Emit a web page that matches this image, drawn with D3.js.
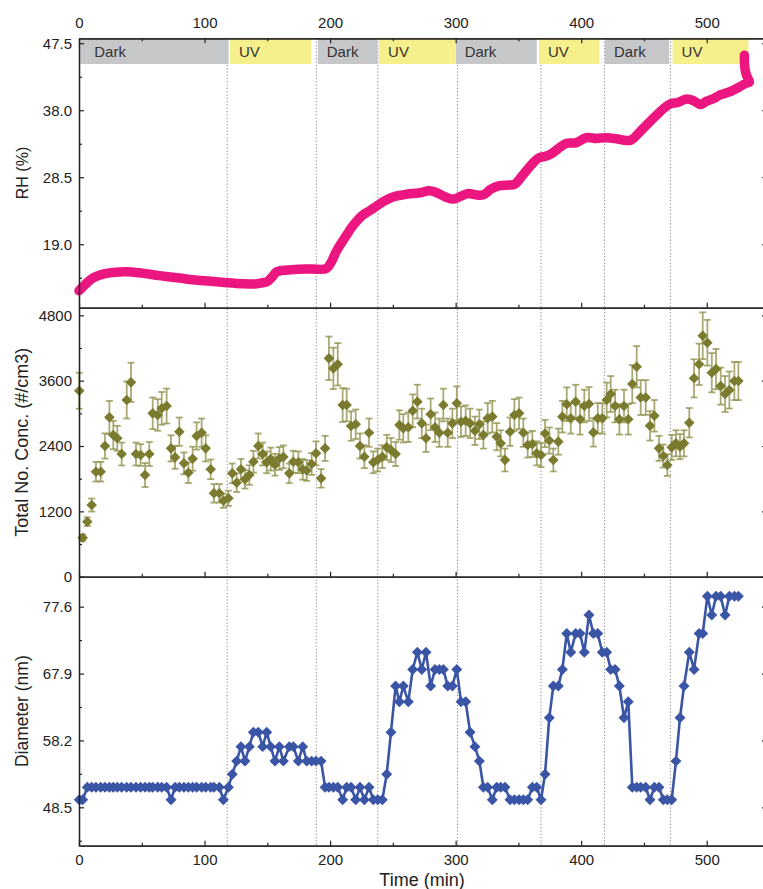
<!DOCTYPE html>
<html><head><meta charset="utf-8">
<script src="https://cdn.jsdelivr.net/npm/d3@7"></script>
<style>body{margin:0;background:#fff;} svg{display:block;font-family:"Liberation Sans",Arial,sans-serif;}</style>
</head><body><svg id="c" width="763" height="889"></svg>
<script>
// ---------- data ----------
const times = [
 0.2,2.9,6.6,10.1,13.5,17.3,20.7,24.2,27.3,30.5,
 34.0,38.0,41.4,45.4,49.1,52.6,56.0,58.7,62.7,65.9,
 69.8,73.3,76.5,79.9,83.6,87.1,90.5,93.7,97.7,100.9,
 104.9,107.5,111.8,115.0,119.0,122.1,125.6,129.0,132.2,135.7,
 138.9,142.8,146.3,149.5,152.7,156.1,159.6,162.8,167.5,170.7,
 174.7,178.2,181.4,185.3,188.8,192.8,196.0,199.1,202.6,206.1,
 210.0,213.2,216.7,220.4,223.8,227.3,231.0,234.4,237.9,241.6,
 245.1,248.5,252.2,255.2,258.3,262.3,265.8,269.5,273.0,276.4,
 280.1,283.6,287.0,290.2,293.7,297.4,300.9,304.3,308.0,311.5,
 315.4,318.9,322.1,325.5,329.2,332.7,335.9,339.3,343.3,346.8,
 350.5,353.9,357.4,361.1,364.6,368.0,371.2,374.6,377.8,381.8,
 385.0,388.5,391.7,395.6,399.1,402.5,406.2,409.7,413.2,416.8,
 420.3,423.5,427.0,430.4,434.1,437.5,440.7,444.2,447.4,451.4,
 454.8,458.3,462.0,465.4,468.6,472.1,475.5,478.7,481.9,486.1,
 489.9,493.9,496.8,500.5,504.0,507.4,511.1,514.6,518.0,
 522.0,525.2];
const conc = [
 3415,716,1010,1316,1928,1928,2400,2927,2602,2541,
 2253,3245,3569,2253,2234,1867,2253,3000,2970,3092,
 3134,2357,2192,2663,2082,1910,2167,2584,2645,2357,
 1972,1531,1531,1396,1440,1898,1726,1972,1788,1867,
 2112,2400,2253,2100,2160,2057,2170,2200,1898,2112,
 2100,1972,1950,2070,2265,1806,2357,4010,3826,3900,
 3153,3153,2767,2800,2400,2204,2645,2100,2143,2204,
 2375,2327,2253,2786,2725,2745,3048,3215,2816,2541,
 2982,2745,2645,3153,2645,2816,3184,2847,2865,2816,
 2680,2800,2602,2908,2939,2572,2449,2143,2663,2970,
 3000,2645,2418,2437,2265,2234,2630,2500,2143,2480,
 2939,3166,2908,3215,2890,3134,3172,2650,2908,2908,
 3245,3355,3134,2890,3134,2890,3538,3856,3290,3290,
 2770,2955,2357,2216,2051,2375,2449,2388,2449,2828,
 3643,3900,4425,4297,3746,3813,3500,3355,3428,
 3593,3593];
const concErr = [
 330,60,80,120,180,180,230,300,260,230,
 210,340,360,210,200,220,220,290,290,300,
 320,240,210,260,200,190,220,250,260,240,
 180,170,170,130,140,180,170,190,170,180,
 200,230,210,200,210,200,210,210,180,200,
 200,190,190,200,220,170,230,400,380,390,
 310,300,270,270,230,210,260,200,210,210,
 230,220,220,270,260,270,300,310,270,250,
 290,270,260,300,260,270,310,280,280,270,
 260,270,250,280,290,250,240,210,260,290,
 290,260,230,240,220,220,250,240,210,240,
 290,310,280,310,280,300,310,260,280,280,
 320,330,300,280,300,280,350,380,320,320,
 270,290,230,210,200,230,240,230,240,270,
 350,380,430,420,360,370,340,330,340,
 350,350];
const diameter = [
 49.6,49.6,51.4,51.4,51.4,51.4,51.4,51.4,51.4,51.4,
 51.4,51.4,51.4,51.4,51.4,51.4,51.4,51.4,51.4,51.4,
 51.4,49.6,51.4,51.4,51.4,51.4,51.4,51.4,51.4,51.4,
 51.4,51.4,51.4,49.6,51.4,53.3,55.2,57.3,55.2,57.3,
 59.4,59.4,57.3,59.4,57.3,55.2,57.3,55.2,57.3,57.3,
 55.2,57.3,55.2,55.2,55.2,55.2,51.4,51.4,51.4,51.4,
 49.6,51.4,51.4,49.6,51.4,49.6,51.4,49.6,49.6,49.6,
 53.3,59.4,66.1,63.8,66.1,63.8,68.5,71.0,68.5,71.0,
 66.1,68.5,68.5,68.5,66.1,66.1,68.5,63.8,63.8,59.4,
 57.3,55.2,51.4,51.4,49.6,51.4,51.4,51.4,49.6,49.6,
 49.6,49.6,49.6,51.4,51.4,49.6,53.3,61.5,66.1,66.1,
 68.5,73.7,71.0,73.7,73.7,71.0,76.4,73.7,73.7,71.0,
 71.0,68.5,68.5,66.1,61.5,63.8,51.4,51.4,51.4,51.4,
 49.6,51.4,51.4,49.6,49.6,49.6,55.2,61.5,66.1,71.0,
 68.5,73.7,73.7,79.1,76.4,79.1,79.1,76.4,79.1,
 79.1,79.1];
const rhTime = [0,5,11,20,27,38,50,64,80,91,105,118,130,139,145,150,154,157.5,170,185,
 197,201,205,212,218.5,225,232,237,243,250,258,265,272,279,285,292,298,304,310,316,
 322,328,335,342,347,353,360,366,372,376,382,388,396,404,412,420,428,436,440,446,
 452,460,466,471,477,484,490,495,500,506,511,518,526,531,534,532,530.5,530];
const rhValue = [12.4,13.3,14.2,14.8,15.0,15.1,14.9,14.55,14.2,13.95,13.75,13.55,13.4,13.35,13.5,13.7,14.4,15.1,15.4,15.5,
 15.55,16.5,18.0,20.0,21.7,23.0,23.8,24.4,25.1,25.7,26.0,26.2,26.3,26.6,26.3,25.7,25.4,25.8,26.2,26.0,
 26.0,26.8,27.3,27.4,27.5,28.7,30.2,31.2,31.5,31.8,32.6,33.3,33.4,34.1,34.0,34.1,33.95,33.7,33.8,34.8,
 35.9,37.3,38.3,38.9,39.1,39.6,39.3,38.8,39.3,39.7,40.2,40.6,41.3,41.8,42.0,42.8,43.8,45.8];
const phaseLabels = ["Dark","UV","Dark","UV","Dark","UV","Dark","UV"];
const phaseStart = [1,120.3,190.2,239,300,366.4,419,472.8];
const phaseEnd   = [119.2,185,237.9,299.5,364.6,414.6,470,533.2];
const dividerTimes = [118,189,238,301.5,368,418.5,471];
const xMajor = [0,100,200,300,400,500];
const xMinor = [50,150,250,350,450];
const rhTicks = [19.0,28.5,38.0,47.5];
const rhMinor = [14.25,23.75,33.25,42.75];
const concTicks = [0,1200,2400,3600,4800];
const concMinor = [600,1800,3000,4200];
const diamTicks = [48.5,58.2,67.9,77.6];
const diamMinor = [43.65,53.35,63.05,72.75];

// ---------- layout ----------
const svg = d3.select("#c");
const L = 79, R = 767;
const P1 = [38.3, 307.7], P2 = [307.7, 576.7], P3 = [576.7, 845.7];
const x = d3.scaleLinear().domain([0, 548]).range([L, R]);
const y1 = d3.scaleLinear().domain([10, 48.2]).range([P1[1], P1[0]]);
const y2 = d3.scaleLinear().domain([0, 4940]).range([P2[1], P2[0]]);
const y3 = d3.scaleLinear().domain([42.93, 81.95]).range([P3[1], P3[0]]);

const ink = "#222";

// divider dotted lines
svg.append("g").selectAll("line").data(dividerTimes).join("line")
  .attr("x1", d => x(d)).attr("x2", d => x(d))
  .attr("y1", P1[0]).attr("y2", P3[1])
  .attr("stroke", "#8a8a8a").attr("stroke-width", 1).attr("stroke-dasharray", "1.3,2");

// phase bands
const bandBottom = 44.55;
const bands = svg.append("g");
phaseLabels.forEach((lab, i) => {
  bands.append("rect")
    .attr("x", x(phaseStart[i])).attr("width", x(phaseEnd[i]) - x(phaseStart[i]))
    .attr("y", y1(48.2)).attr("height", y1(bandBottom) - y1(48.2))
    .attr("fill", lab === "Dark" ? "#c6c7c9" : "#f5f08b");
  bands.append("text")
    .attr("x", x(phaseStart[i]) + (i === 0 ? 14 : 9))
    .attr("y", (y1(48.2) + y1(bandBottom)) / 2)
    .attr("dy", "0.36em")
    .attr("font-size", 15).attr("fill", "#333").text(lab);
});

// RH line
svg.append("path")
  .datum(rhTime.map((t, i) => [t, rhValue[i]]))
  .attr("fill", "none").attr("stroke", "#ec1680").attr("stroke-width", 9.5)
  .attr("stroke-linejoin", "round").attr("stroke-linecap", "round")
  .attr("d", d3.line().x(d => x(d[0])).y(d => y1(d[1])).curve(d3.curveCatmullRom.alpha(0.5)));

// Concentration error bars + markers
const cg = svg.append("g");
const cdata = times.map((t, i) => ({t, v: conc[i], e: concErr[i]}));
const eb = cg.append("g").attr("stroke", "#8c8c45").attr("stroke-opacity", 0.75).attr("stroke-width", 1.8);
cdata.forEach(d => {
  const xx = x(d.t), yt = y2(d.v + d.e), yb = y2(d.v - d.e);
  eb.append("line").attr("x1", xx).attr("x2", xx).attr("y1", yt).attr("y2", yb);
  eb.append("line").attr("x1", xx - 3.5).attr("x2", xx + 3.5).attr("y1", yt).attr("y2", yt);
  eb.append("line").attr("x1", xx - 3.5).attr("x2", xx + 3.5).attr("y1", yb).attr("y2", yb);
});
const diamondC = d3.symbol(d3.symbolSquare, 56);
const diamondD = d3.symbol(d3.symbolSquare, 60);
cg.append("g").selectAll("path").data(cdata).join("path")
  .attr("d", diamondC)
  .attr("transform", d => `translate(${x(d.t)},${y2(d.v)}) rotate(45)`)
  .attr("fill", "#7b7b2f");

// Diameter line + markers
const ddata = times.map((t, i) => ({t, v: diameter[i]}));
svg.append("path").datum(ddata)
  .attr("fill", "none").attr("stroke", "#3a55a6").attr("stroke-width", 2.6)
  .attr("d", d3.line().x(d => x(d.t)).y(d => y3(d.v)));
svg.append("g").selectAll("path").data(ddata).join("path")
  .attr("d", diamondD)
  .attr("transform", d => `translate(${x(d.t)},${y3(d.v)}) rotate(45)`)
  .attr("fill", "#3a55a6");

// ---------- axes ----------
function styleAxis(g) {
  g.select(".domain").attr("stroke", ink).attr("stroke-width", 1.3);
  g.selectAll(".tick line").attr("stroke", ink).attr("stroke-width", 1.2);
  g.selectAll(".tick text").attr("fill", ink).attr("font-size", 15)
    .attr("font-family", '"Liberation Sans", Arial, sans-serif');
}
function panelAxes(y, P, major, minor, fmt, topLabels, bottomLabels) {
  svg.append("g").attr("transform", `translate(${L},0)`)
    .call(d3.axisLeft(y).tickValues(minor).tickSize(-3).tickFormat("").tickSizeOuter(0)).call(styleAxis);
  svg.append("g").attr("transform", `translate(${L},0)`)
    .call(d3.axisLeft(y).tickValues(major).tickSize(-5).tickPadding(7).tickFormat(fmt).tickSizeOuter(0)).call(styleAxis);
  svg.append("g").attr("transform", `translate(${R},0)`)
    .call(d3.axisRight(y).tickValues(major).tickSize(-5).tickFormat("").tickSizeOuter(0)).call(styleAxis);
  svg.append("g").attr("transform", `translate(0,${P[1]})`)
    .call(d3.axisBottom(x).tickValues(xMinor).tickSize(-3).tickFormat("").tickSizeOuter(0)).call(styleAxis);
  svg.append("g").attr("transform", `translate(0,${P[1]})`)
    .call(d3.axisBottom(x).tickValues(xMajor).tickSize(-5).tickPadding(9).tickFormat(bottomLabels ? d3.format("d") : "").tickSizeOuter(0)).call(styleAxis);
  if (topLabels) {
    svg.append("g").attr("transform", `translate(0,${P[0]})`)
      .call(d3.axisTop(x).tickValues(xMinor).tickSize(-3).tickFormat("").tickSizeOuter(0)).call(styleAxis);
    svg.append("g").attr("transform", `translate(0,${P[0]})`)
      .call(d3.axisTop(x).tickValues(xMajor).tickSize(-5).tickPadding(10).tickFormat(d3.format("d")).tickSizeOuter(0)).call(styleAxis);
  }
}
panelAxes(y1, P1, rhTicks, rhMinor, d3.format(".1f"), true, false);
panelAxes(y2, P2, concTicks, concMinor, d3.format("d"), false, false);
panelAxes(y3, P3, diamTicks, diamMinor, d3.format(".1f"), false, true);

// titles
const titleText = ["RH (%)", "Total No. Conc. (#/cm3)", "Diameter (nm)"];
const titleSize = [16, 18, 17.5];
[P1, P2, P3].forEach((P, i) => {
  svg.append("text")
    .attr("transform", `translate(22,${(P[0] + P[1]) / 2}) rotate(-90)`)
    .attr("text-anchor", "middle").attr("dy", "0.35em")
    .attr("font-size", titleSize[i]).attr("fill", ink).text(titleText[i]);
});
svg.append("text").attr("x", 422).attr("y", 886).attr("text-anchor", "middle")
  .attr("font-size", 18).attr("fill", ink).text("Time (min)");
</script>
</body></html>
